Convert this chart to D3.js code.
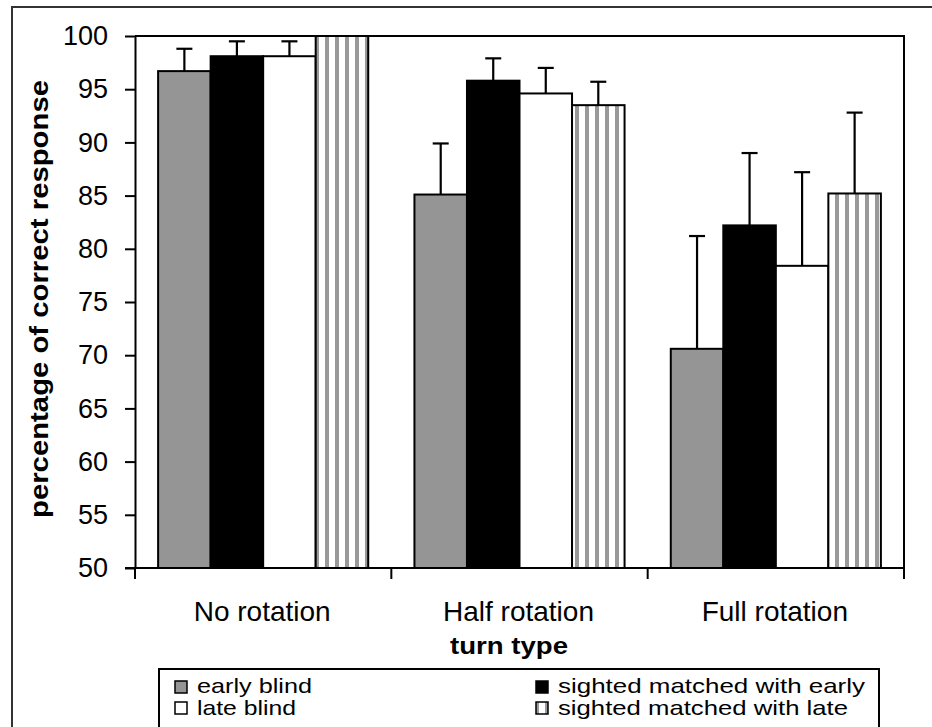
<!DOCTYPE html>
<html>
<head>
<meta charset="utf-8">
<script src="https://cdn.jsdelivr.net/npm/d3@7"></script>
<style>
  html, body { margin: 0; padding: 0; background: #fff; }
  svg { display: block; }
  text { font-family: "Liberation Sans", Arial, sans-serif; fill: #000; }
</style>
</head>
<body>
<svg id="chart" width="932" height="727"></svg>
<script>
// ---- data ----
const categories = ["No rotation", "Half rotation", "Full rotation"];
const seriesNames = ["early blind", "sighted matched with early", "late blind", "sighted matched with late"];
const earlyBlind = [96.7, 85.1, 70.6];
const sightedEarly = [98.1, 95.8, 82.2];
const lateBlind = [98.1, 94.6, 78.4];
const sightedLate = [100, 93.5, 85.2];
const earlyBlindErr = [2.1, 4.8, 10.6];
const sightedEarlyErr = [1.4, 2.1, 6.8];
const lateBlindErr = [1.4, 2.4, 8.8];
const sightedLateErr = [0, 2.2, 7.6];
const yTicks = [50, 55, 60, 65, 70, 75, 80, 85, 90, 95, 100];
const xTitle = "turn type";
const yTitle = "percentage of correct response";

const seriesValues = [earlyBlind, sightedEarly, lateBlind, sightedLate];
const seriesErrors = [earlyBlindErr, sightedEarlyErr, lateBlindErr, sightedLateErr];
const fills = ["#959595", "#000000", "#ffffff", "url(#stripes)"];

const rows = [];
categories.forEach((c, i) => {
  seriesNames.forEach((s, j) => {
    rows.push({ cat: c, series: s, value: seriesValues[j][i], err: seriesErrors[j][i], fill: fills[j] });
  });
});

// ---- layout ----
const svg = d3.select("#chart");
const plot = { left: 135, right: 904, top: 36, bottom: 568 };

const defs = svg.append("defs");
const pat = defs.append("pattern").attr("id", "stripes")
  .attr("patternUnits", "userSpaceOnUse").attr("width", 10).attr("height", 10);
pat.append("rect").attr("width", 10).attr("height", 10).attr("fill", "#fff");
pat.append("rect").attr("x", 5).attr("width", 4).attr("height", 10).attr("fill", "#999");

// outer frame
svg.append("rect").attr("x", 12).attr("y", 7).attr("width", 960).attr("height", 760)
  .attr("fill", "none").attr("stroke", "#333").attr("stroke-width", 2);

const x0 = d3.scaleBand().domain(categories).range([plot.left, plot.right]).paddingInner(0).paddingOuter(0);
const x1 = d3.scaleBand().domain(seriesNames).range([0, x0.bandwidth()]).paddingInner(0).paddingOuter(0.44);
const y = d3.scaleLinear().domain([50, 100]).range([plot.bottom, plot.top]);

// plot frame top & right
svg.append("path")
  .attr("d", `M${plot.left},${plot.top}H${plot.right}V${plot.bottom}`)
  .attr("fill", "none").attr("stroke", "#000").attr("stroke-width", 2);

// bars
svg.append("g").selectAll("rect").data(rows).join("rect")
  .attr("x", d => x0(d.cat) + x1(d.series))
  .attr("y", d => y(d.value))
  .attr("width", x1.bandwidth())
  .attr("height", d => y(50) - y(d.value))
  .attr("fill", d => d.fill)
  .attr("stroke", "#000").attr("stroke-width", 2);

// error bars
const eb = svg.append("g").attr("stroke", "#000").attr("stroke-width", 2.2);
rows.filter(d => d.err > 0).forEach(d => {
  const cx = x0(d.cat) + x1(d.series) + x1.bandwidth() / 2;
  eb.append("line").attr("x1", cx).attr("x2", cx).attr("y1", y(d.value)).attr("y2", y(d.value + d.err));
  eb.append("line").attr("x1", cx - 8).attr("x2", cx + 8).attr("y1", y(d.value + d.err)).attr("y2", y(d.value + d.err));
});

// y axis
const yAxis = svg.append("g").attr("transform", `translate(${plot.left},0)`)
  .call(d3.axisLeft(y).tickValues(yTicks).tickSize(10).tickSizeOuter(0).tickPadding(17));
yAxis.selectAll("path, line").attr("stroke", "#000").attr("stroke-width", 2);
yAxis.selectAll("text").attr("font-size", 27).attr("font-family", "Liberation Sans, Arial, sans-serif").attr("fill", "#000");

// x axis baseline + ticks at category boundaries
const xg = svg.append("g");
xg.append("line").attr("x1", plot.left - 10).attr("x2", plot.right).attr("y1", plot.bottom).attr("y2", plot.bottom)
  .attr("stroke", "#000").attr("stroke-width", 2);
const bounds = categories.map(c => x0(c)).concat([x0.range()[1]]);
xg.selectAll("line.tk").data(bounds).join("line").attr("class", "tk")
  .attr("x1", d => d).attr("x2", d => d).attr("y1", plot.bottom).attr("y2", plot.bottom + 11)
  .attr("stroke", "#000").attr("stroke-width", 2);
xg.selectAll("text").data(categories).join("text")
  .attr("x", d => x0(d) + x0.bandwidth() / 2 - 1)
  .attr("y", 621)
  .attr("text-anchor", "middle").attr("font-size", 28)
  .text(d => d);

// axis titles
svg.append("text").attr("x", 509).attr("y", 654).attr("text-anchor", "middle")
  .attr("font-size", 24).attr("font-weight", "bold")
  .attr("textLength", 118).attr("lengthAdjust", "spacingAndGlyphs")
  .text(xTitle);
svg.append("text").attr("transform", "translate(48,299) rotate(-90)").attr("text-anchor", "middle")
  .attr("font-size", 25).attr("font-weight", "bold")
  .attr("textLength", 438).attr("lengthAdjust", "spacingAndGlyphs")
  .text(yTitle);

// legend
svg.append("rect").attr("x", 159).attr("y", 669).attr("width", 720).attr("height", 80)
  .attr("fill", "#fff").attr("stroke", "#000").attr("stroke-width", 2);
const legendPos = [
  { col: 0, row: 0 }, { col: 1, row: 0 }, { col: 0, row: 1 }, { col: 1, row: 1 }
];
const legendLen = [115, 307, 99, 290];
const colX = [175, 536];
const lg = svg.append("g");
seriesNames.forEach((s, j) => {
  const p = legendPos[j];
  const gx = colX[p.col], gy = 681 + p.row * 21;
  lg.append("rect").attr("x", gx).attr("y", gy).attr("width", 12).attr("height", 12)
    .attr("fill", fills[j]).attr("stroke", "#000").attr("stroke-width", 1.5);
  lg.append("text").attr("x", gx + 22).attr("y", gy + 12 + p.row * 1).attr("font-size", 21)
    .attr("textLength", legendLen[j]).attr("lengthAdjust", "spacingAndGlyphs").text(s);
});
</script>
</body>
</html>
